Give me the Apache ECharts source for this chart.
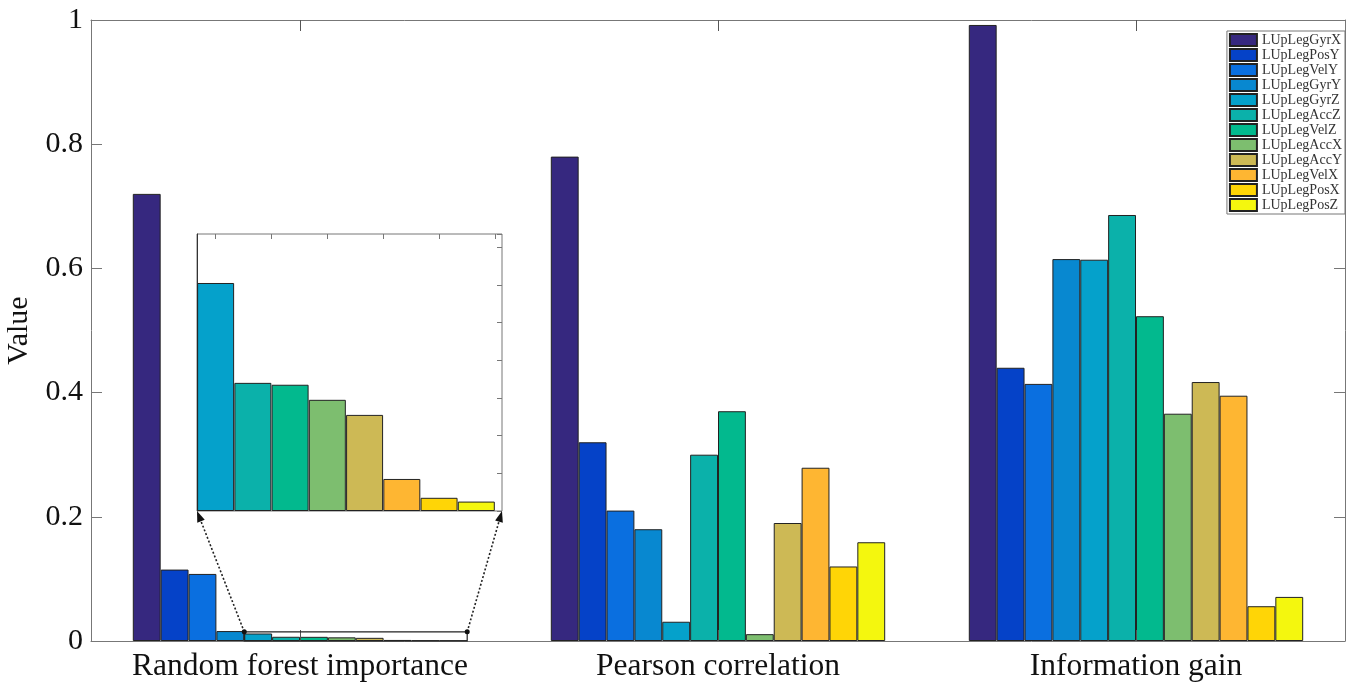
<!DOCTYPE html>
<html lang="en">
<head>
<meta charset="UTF-8">
<title>Feature ranking</title>
<script src="https://cdn.jsdelivr.net/npm/echarts@6/dist/echarts.min.js"></script>
<style>
    body { margin: 0; padding: 0; background: #fff; }
    #chart { width: 1353px; height: 689px; }
</style>
</head>
<body>
<div id="chart"></div>
<script>
// groups on the x axis
var methods = ['Random forest importance', 'Pearson correlation', 'Information gain'];
// one bar per feature in every group
var features = ['LUpLegGyrX', 'LUpLegPosY', 'LUpLegVelY', 'LUpLegGyrY', 'LUpLegGyrZ', 'LUpLegAccZ',
                'LUpLegVelZ', 'LUpLegAccX', 'LUpLegAccY', 'LUpLegVelX', 'LUpLegPosX', 'LUpLegPosZ'];
var colors = ['#36287f', '#0542c8', '#0a6fe0', '#0888d0', '#05a1cb', '#0bb1aa',
              '#02b98e', '#7dbe6f', '#cdb955', '#feb632', '#ffd506', '#f4f70e'];
var rfImportance = [0.72, 0.115, 0.108, 0.016, 0.0121, 0.0068, 0.0067, 0.0059, 0.0051, 0.0017, 0.0007, 0.0005];
var pearson = [0.78, 0.32, 0.21, 0.18, 0.031, 0.30, 0.37, 0.011, 0.19, 0.279, 0.12, 0.159];
var infoGain = [0.992, 0.44, 0.414, 0.615, 0.614, 0.686, 0.523, 0.366, 0.417, 0.395, 0.056, 0.071];

// zoomed inset of the small random forest bars
var insetFrom = 4;
var insetMax = 0.0147;
var insetXTicks = [1, 2.5, 4, 5.5, 7, 8.5];

var font = 'Liberation Serif';
var axisGray = '#777';

var chart = echarts.init(document.getElementById('chart'));

var series = features.map(function (name, i) {
    return {
        name: name,
        type: 'bar',
        xAxisIndex: 0,
        yAxisIndex: 0,
        barGap: '0%',
        barCategoryGap: '20%',
        itemStyle: { color: colors[i], borderColor: '#222', borderWidth: 1 },
        data: [rfImportance[i], pearson[i], infoGain[i]]
    };
});

series.push({
    name: 'inset',
    type: 'bar',
    xAxisIndex: 2,
    yAxisIndex: 2,
    barWidth: 37,
    itemStyle: { borderColor: '#222', borderWidth: 1 },
    data: rfImportance.slice(insetFrom).map(function (v, i) {
        return { value: [i + 1, v], itemStyle: { color: colors[i + insetFrom] } };
    })
});

chart.setOption({
    animation: false,
    backgroundColor: '#fff',
    textStyle: { fontFamily: font },
    grid: [
        { left: 91, right: 8, top: 20, bottom: 48, outerBoundsMode: 'none' },
        { left: 197, top: 234, width: 305, height: 277, outerBoundsMode: 'none', show: true,
          backgroundColor: '#fff', borderColor: axisGray, borderWidth: 1 }
    ],
    legend: {
        data: features,
        orient: 'vertical',
        right: 8,
        top: 31,
        itemWidth: 27,
        itemHeight: 12,
        itemGap: 1,
        padding: [2, 3, 2, 2],
        icon: 'rect',
        borderColor: axisGray,
        borderWidth: 1,
        backgroundColor: '#fff',
        textStyle: { fontFamily: font, fontSize: 14, color: '#333' }
    },
    xAxis: [{
        type: 'category',
        gridIndex: 0,
        data: methods,
        z: 10,
        axisLine: { onZero: false, lineStyle: { color: axisGray } },
        axisTick: { show: true, interval: 0, inside: true, alignWithLabel: true, length: 11, lineStyle: { color: '#555' } },
        axisLabel: { interval: 0, fontFamily: font, fontSize: 31.5, color: '#111', margin: 10 }
    }, {
        type: 'category',
        gridIndex: 0,
        position: 'top',
        data: methods,
        axisLine: { onZero: false, lineStyle: { color: axisGray } },
        axisTick: { show: true, interval: 0, inside: true, alignWithLabel: true, length: 11, lineStyle: { color: '#555' } },
        axisLabel: { show: false, interval: 0 }
    }, {
        type: 'value',
        gridIndex: 1,
        min: 0.5,
        max: 8.69,
        splitLine: { show: false },
        axisLine: { show: false, onZero: false },
        axisTick: { show: false },
        axisLabel: { show: false }
    }, {
        type: 'value',
        gridIndex: 1,
        position: 'top',
        min: 0.5,
        max: 8.69,
        splitLine: { show: false },
        axisLine: { show: false, onZero: false },
        axisTick: { show: true, inside: true, length: 5, customValues: insetXTicks, lineStyle: { color: axisGray } },
        axisLabel: { show: false }
    }],
    yAxis: [{
        type: 'value',
        gridIndex: 0,
        min: 0,
        max: 1,
        interval: 0.2,
        name: 'Value',
        nameLocation: 'middle',
        nameGap: 56,
        nameTextStyle: { fontFamily: font, fontSize: 30, color: '#111' },
        splitLine: { show: false },
        axisLine: { show: true, onZero: false, lineStyle: { color: axisGray } },
        axisTick: { show: true, inside: true, length: 11, lineStyle: { color: axisGray } },
        axisLabel: { fontFamily: font, fontSize: 30, color: '#111', margin: 8 }
    }, {
        type: 'value',
        gridIndex: 0,
        position: 'right',
        min: 0,
        max: 1,
        interval: 0.2,
        splitLine: { show: false },
        axisLine: { show: true, onZero: false, lineStyle: { color: axisGray } },
        axisTick: { show: true, inside: true, length: 11, lineStyle: { color: axisGray } },
        axisLabel: { show: false }
    }, {
        type: 'value',
        gridIndex: 1,
        min: 0,
        max: insetMax,
        interval: 0.002,
        splitLine: { show: false },
        axisLine: { show: true, onZero: false, lineStyle: { color: '#333' } },
        axisTick: { show: false },
        axisLabel: { show: false }
    }, {
        type: 'value',
        gridIndex: 1,
        position: 'right',
        min: 0,
        max: insetMax,
        interval: 0.002,
        splitLine: { show: false },
        axisLine: { show: false, onZero: false },
        axisTick: { show: true, inside: true, length: 5, lineStyle: { color: axisGray } },
        axisLabel: { show: false }
    }],
    series: series
});

// zoom box around the small bars and dotted arrows up to the inset
var c0 = chart.convertToPixel({ xAxisIndex: 0 }, 0);
var catW = chart.convertToPixel({ xAxisIndex: 0 }, 1) - c0;
var barW = catW * 0.8 / features.length;
var groupLeft = c0 - catW * 0.4;
var boxX1 = groupLeft + insetFrom * barW;
var boxX2 = groupLeft + features.length * barW;
var boxTop = chart.convertToPixel({ yAxisIndex: 0 }, insetMax);
var boxBottom = chart.convertToPixel({ yAxisIndex: 0 }, 0);
var inL = chart.convertToPixel({ xAxisIndex: 2 }, 0.5);
var inR = chart.convertToPixel({ xAxisIndex: 2 }, 8.69);
var inB = chart.convertToPixel({ yAxisIndex: 2 }, 0);

function arrow(x1, y1, x2, y2) {
    var dx = x2 - x1, dy = y2 - y1;
    var len = Math.sqrt(dx * dx + dy * dy);
    var ux = dx / len, uy = dy / len;
    var bx = x2 - ux * 11, by = y2 - uy * 11;
    return [{
        type: 'line', z: 100,
        shape: { x1: x1, y1: y1, x2: bx, y2: by },
        style: { stroke: '#222', lineWidth: 1.6, lineDash: [2, 2] }
    }, {
        type: 'polygon', z: 100,
        shape: { points: [[x2, y2], [bx - uy * 4, by + ux * 4], [bx + uy * 4, by - ux * 4]] },
        style: { fill: '#111' }
    }, {
        type: 'circle', z: 100,
        shape: { cx: x1, cy: y1, r: 2.5 },
        style: { fill: '#111' }
    }];
}

chart.setOption({
    graphic: [{
        type: 'rect', z: 100,
        shape: { x: boxX1, y: boxTop, width: boxX2 - boxX1, height: boxBottom - boxTop },
        style: { fill: 'none', stroke: '#222', lineWidth: 1.2 }
    }].concat(arrow(boxX1, boxTop, inL, inB), arrow(boxX2, boxTop, inR, inB))
});
</script>
</body>
</html>
